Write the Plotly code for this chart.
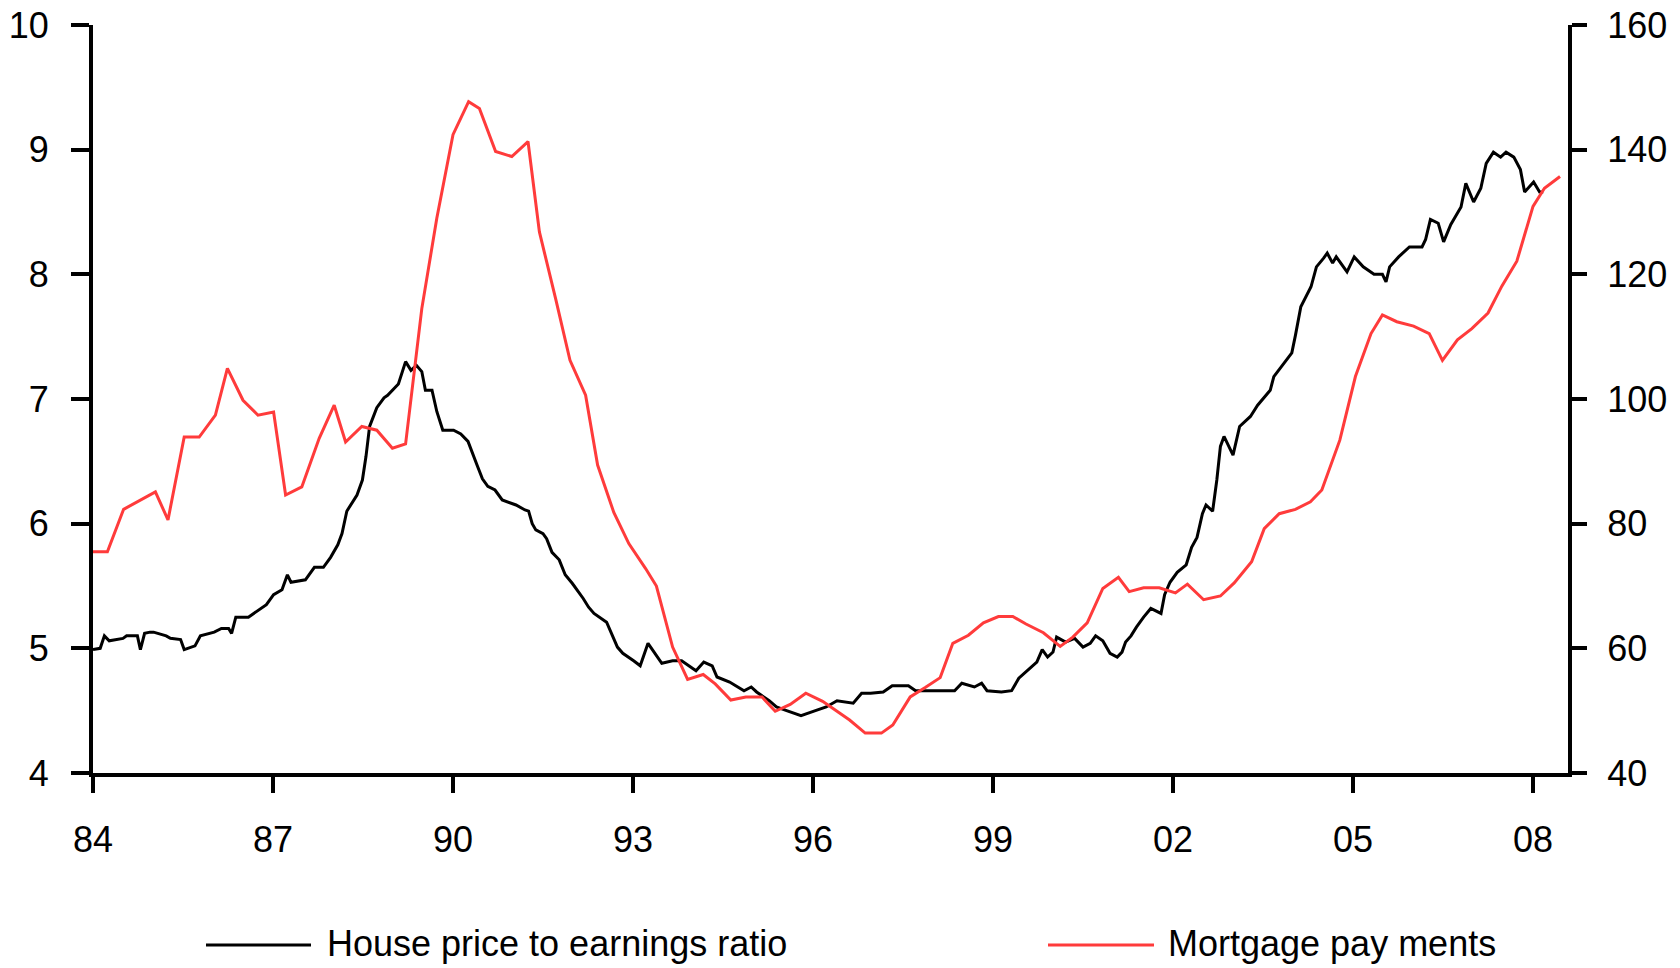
import plotly.graph_objects as go

# ---- data ----
black_x = [1984.0, 1984.12, 1984.19, 1984.27, 1984.5, 1984.56, 1984.74, 1984.79, 1984.86, 1984.95,
           1985.01, 1985.22, 1985.29, 1985.46, 1985.52, 1985.70, 1985.79, 1986.02, 1986.14, 1986.26,
           1986.31, 1986.38, 1986.59, 1986.75, 1986.89, 1987.01, 1987.15, 1987.24, 1987.30, 1987.54,
           1987.69, 1987.84, 1987.96, 1988.08, 1988.15, 1988.23, 1988.40, 1988.49, 1988.55, 1988.61,
           1988.73, 1988.85, 1988.91, 1989.09, 1989.21, 1989.30, 1989.39, 1989.48, 1989.54, 1989.65,
           1989.73, 1989.83, 1990.01, 1990.13, 1990.25, 1990.40, 1990.49, 1990.58, 1990.70, 1990.82,
           1991.05, 1991.20, 1991.26, 1991.32, 1991.38, 1991.50, 1991.56, 1991.65, 1991.77, 1991.87,
           1991.99, 1992.17, 1992.26, 1992.35, 1992.56, 1992.74, 1992.83, 1993.01, 1993.12, 1993.25,
           1993.48, 1993.66, 1993.81, 1994.05, 1994.18, 1994.32, 1994.40, 1994.61, 1994.85, 1994.97,
           1995.06, 1995.27, 1995.39, 1995.56, 1995.80, 1996.04, 1996.22, 1996.40, 1996.67, 1996.81,
           1996.96, 1997.17, 1997.32, 1997.59, 1997.71, 1998.01, 1998.36, 1998.48, 1998.69, 1998.81,
           1998.90, 1999.14, 1999.31, 1999.43, 1999.55, 1999.73, 1999.82, 1999.91, 2000.00, 2000.06,
           2000.21, 2000.36, 2000.50, 2000.62, 2000.71, 2000.83, 2000.95, 2001.07, 2001.15, 2001.21,
           2001.30, 2001.39, 2001.51, 2001.63, 2001.80, 2001.86, 2001.95, 2002.07, 2002.22, 2002.31,
           2002.40, 2002.49, 2002.55, 2002.66, 2002.73, 2002.79, 2002.85, 2003.00, 2003.11, 2003.29,
           2003.41, 2003.62, 2003.68, 2003.80, 2003.98, 2004.04, 2004.13, 2004.30, 2004.39, 2004.51,
           2004.57, 2004.66, 2004.72, 2004.90, 2005.02, 2005.17, 2005.35, 2005.49, 2005.55, 2005.61,
           2005.76, 2005.94, 2006.15, 2006.21, 2006.29, 2006.42, 2006.51, 2006.63, 2006.80, 2006.88,
           2007.01, 2007.13, 2007.22, 2007.34, 2007.46, 2007.55, 2007.68, 2007.79, 2007.86, 2008.01,
           2008.11, 2008.17]
black_y = [4.99, 5.00, 5.10, 5.06, 5.08, 5.10, 5.10, 4.99, 5.12, 5.13,
           5.13, 5.10, 5.08, 5.07, 4.99, 5.02, 5.10, 5.13, 5.16, 5.16,
           5.12, 5.25, 5.25, 5.30, 5.35, 5.43, 5.47, 5.59, 5.53, 5.55,
           5.65, 5.65, 5.73, 5.83, 5.92, 6.10, 6.23, 6.35, 6.54, 6.78,
           6.93, 7.01, 7.03, 7.12, 7.30, 7.23, 7.27, 7.22, 7.07, 7.07,
           6.90, 6.75, 6.75, 6.72, 6.66, 6.47, 6.36, 6.30, 6.27, 6.19,
           6.15, 6.11, 6.10, 6.00, 5.95, 5.92, 5.88, 5.77, 5.71, 5.59,
           5.52, 5.40, 5.33, 5.28, 5.21, 5.01, 4.96, 4.90, 4.86, 5.04,
           4.88, 4.90, 4.90, 4.82, 4.89, 4.86, 4.77, 4.73, 4.66, 4.69,
           4.65, 4.58, 4.53, 4.50, 4.46, 4.50, 4.53, 4.58, 4.56, 4.64,
           4.64, 4.65, 4.70, 4.70, 4.66, 4.66, 4.66, 4.72, 4.69, 4.72,
           4.66, 4.65, 4.66, 4.76, 4.81, 4.89, 4.99, 4.93, 4.97, 5.09,
           5.05, 5.08, 5.01, 5.04, 5.10, 5.06, 4.96, 4.93, 4.97, 5.05,
           5.10, 5.17, 5.25, 5.32, 5.28, 5.43, 5.53, 5.61, 5.67, 5.81,
           5.89, 6.08, 6.15, 6.10, 6.35, 6.62, 6.70, 6.55, 6.78, 6.86,
           6.95, 7.07, 7.18, 7.26, 7.37, 7.51, 7.74, 7.90, 8.06, 8.13,
           8.17, 8.09, 8.14, 8.02, 8.14, 8.06, 8.00, 8.00, 7.94, 8.06,
           8.14, 8.22, 8.22, 8.28, 8.44, 8.41, 8.26, 8.40, 8.54, 8.73,
           8.58, 8.69, 8.89, 8.98, 8.94, 8.98, 8.94, 8.84, 8.66, 8.74,
           8.66, 8.66]

red_x = [1984.0, 1984.24, 1984.51, 1984.74, 1985.04, 1985.25, 1985.52, 1985.77, 1986.04, 1986.24,
         1986.50, 1986.75, 1987.01, 1987.21, 1987.48, 1987.77, 1988.02, 1988.21, 1988.48, 1988.73,
         1988.99, 1989.21, 1989.48, 1989.73, 1990.00, 1990.26, 1990.44, 1990.71, 1990.98, 1991.25,
         1991.44, 1991.71, 1991.95, 1992.21, 1992.41, 1992.68, 1992.93, 1993.21, 1993.39, 1993.66,
         1993.91, 1994.17, 1994.37, 1994.63, 1994.88, 1995.15, 1995.37, 1995.62, 1995.88, 1996.16,
         1996.34, 1996.61, 1996.87, 1997.14, 1997.33, 1997.62, 1997.87, 1998.12, 1998.33, 1998.59,
         1998.84, 1999.09, 1999.33, 1999.55, 1999.84, 2000.12, 2000.33, 2000.57, 2000.83, 2001.09,
         2001.27, 2001.51, 2001.77, 2002.04, 2002.24, 2002.51, 2002.79, 2003.02, 2003.31, 2003.52,
         2003.77, 2004.04, 2004.29, 2004.48, 2004.78, 2005.04, 2005.30, 2005.49, 2005.73, 2006.01,
         2006.27, 2006.49, 2006.74, 2006.98, 2007.25, 2007.48, 2007.73, 2008.00, 2008.19, 2008.45]
red_y = [75.5, 75.5, 82.3, 83.5, 85.1, 80.6, 93.9, 93.9, 97.4, 104.9,
         99.8, 97.4, 97.9, 84.6, 85.9, 93.7, 99.0, 93.1, 95.6, 95.0,
         92.1, 92.8, 114.5, 129.0, 142.4, 147.7, 146.6, 139.7, 138.9, 141.3,
         126.8, 116.1, 106.2, 100.6, 89.4, 81.8, 76.8, 72.8, 70.0, 60.2,
         55.0, 55.8, 54.3, 51.7, 52.2, 52.2, 49.9, 51.0, 52.8, 51.5,
         50.3, 48.5, 46.4, 46.4, 47.7, 52.2, 53.7, 55.3, 60.8, 62.1,
         64.1, 65.1, 65.1, 63.9, 62.5, 60.3, 61.8, 64.1, 69.6, 71.4,
         69.1, 69.7, 69.7, 68.9, 70.3, 67.8, 68.4, 70.5, 73.9, 79.2,
         81.6, 82.3, 83.5, 85.4, 93.4, 103.6, 110.5, 113.5, 112.4, 111.7,
         110.5, 106.2, 109.5, 111.3, 113.8, 118.1, 122.1, 130.9, 133.8, 135.7]

x_tickvals = [1984, 1987, 1990, 1993, 1996, 1999, 2002, 2005, 2008]
x_ticktext = ["84", "87", "90", "93", "96", "99", "02", "05", "08"]
series_names = ["House price to earnings ratio", "Mortgage pay ments"]

BLACK = "#000000"
RED = "#ff3b3b"
FONT = "Liberation Sans, Arial, sans-serif"
FS_TICK = 36
FS_LEG = 36

W, H = 1680, 968
L, R, T, B = 93, 112, 25, 195
PW, PH = W - L - R, H - T - B

fig = go.Figure()
fig.add_trace(go.Scatter(x=black_x, y=black_y, mode="lines", name=series_names[0],
                         line=dict(color=BLACK, width=3), yaxis="y", showlegend=False))
fig.add_trace(go.Scatter(x=red_x, y=red_y, mode="lines", name=series_names[1],
                         line=dict(color=RED, width=3), yaxis="y2", showlegend=False))

axis_common = dict(showgrid=False, zeroline=False, showline=True, linecolor=BLACK, linewidth=4,
                   ticks="outside", tickcolor=BLACK, tickwidth=4, automargin=False,
                   ticklabeloverflow="allow",
                   tickfont=dict(family=FONT, size=FS_TICK, color=BLACK))

fig.update_layout(
    width=W, height=H, autosize=False,
    margin=dict(l=L, r=R, t=T, b=B, pad=0),
    paper_bgcolor="white", plot_bgcolor="white",
    font=dict(family=FONT, size=FS_TICK, color=BLACK),
    xaxis=dict(range=[1984, 2008.583], tickvals=x_tickvals, ticktext=x_ticktext,
               ticklen=16, ticklabelstandoff=16, **axis_common),
    yaxis=dict(range=[4, 10], dtick=1, tick0=4, ticklen=18, ticklabelstandoff=15, **axis_common),
    yaxis2=dict(range=[40, 160], dtick=20, tick0=40, overlaying="y", side="right",
                ticklen=15, ticklabelstandoff=13, **axis_common),
)

# manual legend (line samples + labels) below the plot
def px_to_paper(px, py):
    return (px - L) / PW, (H - B - py) / PH

legend_items = [(206, 311, 325, BLACK, 3, series_names[0]),
                (1048, 1154, 1166, RED, 3, series_names[1])]
for x0, x1, xt, col, lw, label in legend_items:
    ax0, ay = px_to_paper(x0, 945)
    ax1, _ = px_to_paper(x1, 945)
    axt, ayt = px_to_paper(xt, 943)
    fig.add_shape(type="line", xref="paper", yref="paper", x0=ax0, x1=ax1, y0=ay, y1=ay,
                  line=dict(color=col, width=lw))
    fig.add_annotation(xref="paper", yref="paper", x=axt, y=ayt, text=label, showarrow=False,
                       xanchor="left", yanchor="middle", font=dict(family=FONT, size=FS_LEG, color=BLACK))

# remove the default 8px page margin so the 1680x968 figure fills the window exactly
fig.write_html("out.html",
               config={"displayModeBar": False},
               post_script="document.body.style.margin='0';document.body.style.overflow='hidden';")
